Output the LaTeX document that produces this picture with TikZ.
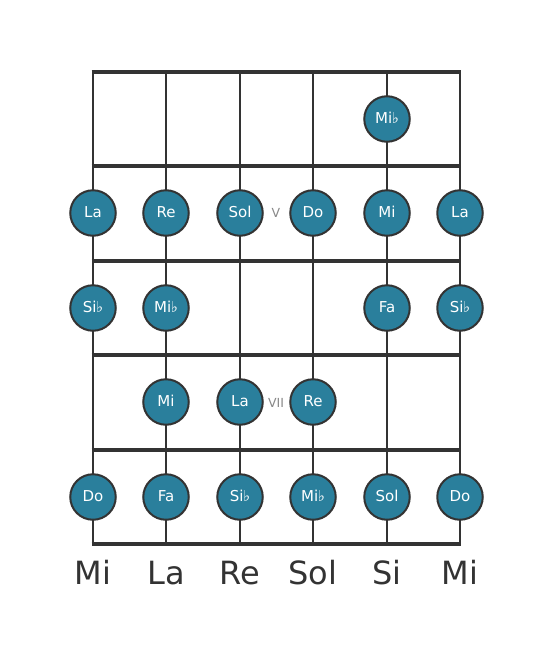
\documentclass[tikz,border=0pt]{standalone}
\usepackage{fontspec}
\setmainfont{DejaVu Sans}
\definecolor{teal1}{HTML}{2A7F9C}
\definecolor{ink}{HTML}{333333}
\definecolor{numgray}{HTML}{888888}
\tikzset{
  fretline/.style={draw=ink, line width=4.8pt},
  stringline/.style={draw=ink, line width=2.6pt},
  note/.style={circle, fill=teal1, draw=ink, line width=2pt, minimum size=45.5pt, inner sep=0pt, text=white, font=\fontsize{15}{18}\selectfont, text height=0.86em, text depth=0pt},
  posnum/.style={text=numgray, font=\fontsize{12.5}{15}\selectfont, text height=0.8em, text depth=0pt},
  sname/.style={text=ink, font=\fontsize{32}{38}\selectfont, anchor=base}
}
\newcommand{\fl}{\kern-0.5pt{\fontsize{15}{18}\selectfont ♭}}
\begin{document}
\begin{tikzpicture}[x=1pt,y=-1pt]
\useasboundingbox (0,0) rectangle (553,656);
% strings
\foreach \i/\x in {1/93,2/166,3/240,4/313,5/387,6/460}{
  \coordinate (st\i) at (\x,72);
  \coordinate (sb\i) at (\x,544);
  \draw[stringline] (st\i) -- (sb\i);
}
% frets
\foreach \j/\y in {0/72,1/166,2/261,3/355,4/450,5/544}{
  \coordinate (fl\j) at (91.7,\y);
  \coordinate (fr\j) at (461.3,\y);
  \draw[fretline] (fl\j) -- (fr\j);
}
% row 1
\node[note] (n15) at (387,119) {Mi\fl};
% row 2
\node[note] (n21) at (93,213) {La};
\node[note] (n22) at (166,213) {Re};
\node[note] (n23) at (240,213) {Sol};
\node[note] (n24) at (313,213) {Do};
\node[note] (n25) at (387,213) {Mi};
\node[note] (n26) at (460,213) {La};
\node[posnum] (p5) at (276,213) {V};
% row 3
\node[note] (n31) at (93,308) {Si\fl};
\node[note] (n32) at (166,308) {Mi\fl};
\node[note] (n35) at (387,308) {Fa};
\node[note] (n36) at (460,308) {Si\fl};
% row 4
\node[note] (n42) at (166,402) {Mi};
\node[note] (n43) at (240,402) {La};
\node[note] (n44) at (313,402) {Re};
\node[posnum] (p7) at (276,403) {VII};
% row 5
\node[note] (n51) at (93,497) {Do};
\node[note] (n52) at (166,497) {Fa};
\node[note] (n53) at (240,497) {Si\fl};
\node[note] (n54) at (313,497) {Mi\fl};
\node[note] (n55) at (387,497) {Sol};
\node[note] (n56) at (460,497) {Do};
% string names
\node[sname] (s1) at (93,584) {Mi};
\node[sname] (s2) at (166,584) {La};
\node[sname] (s3) at (240,584) {Re};
\node[sname] (s4) at (313,584) {Sol};
\node[sname] (s5) at (387,584) {Si};
\node[sname] (s6) at (460,584) {Mi};
\end{tikzpicture}
\end{document}
